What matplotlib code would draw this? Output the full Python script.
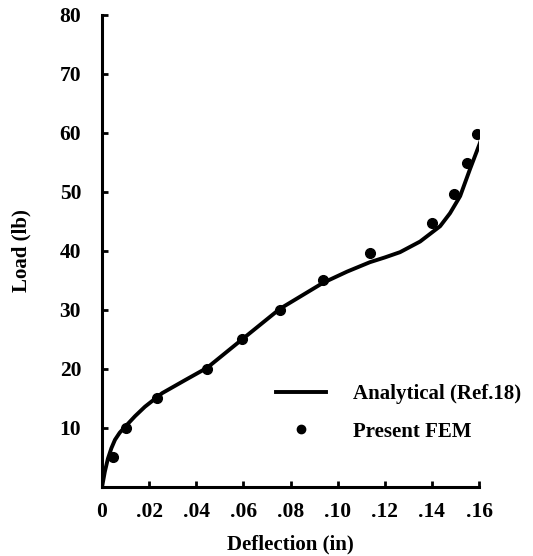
import matplotlib
matplotlib.use("Agg")
import matplotlib.pyplot as plt
from matplotlib.lines import Line2D

# analytical curve (Ref.18)
curve_defl = [0.0, 0.0012, 0.0025, 0.0040, 0.0055, 0.0075, 0.0098, 0.0140, 0.0182,
              0.0255, 0.0352, 0.0446, 0.0594, 0.0755, 0.0938, 0.1040, 0.1137,
              0.1200, 0.1265, 0.1350, 0.1435, 0.1477, 0.1520, 0.1562, 0.1604, 0.1613]
curve_load = [0.0, 2.6, 4.8, 6.6, 8.0, 9.2, 10.2, 12.0, 13.6,
              15.9, 18.1, 20.2, 25.0, 30.2, 34.6, 36.5, 38.1,
              38.9, 39.8, 41.6, 44.2, 46.4, 49.3, 53.9, 58.3, 59.5]

# present FEM points
fem_defl = [0.0047, 0.0102, 0.0233, 0.0446, 0.0594, 0.0755, 0.0938, 0.1137,
            0.1401, 0.1494, 0.1549, 0.1592]
fem_load = [5.0, 10.0, 15.0, 20.0, 25.0, 30.0, 35.0, 39.7, 44.7, 49.7, 54.9, 59.8]

x_ticks = [0, 0.02, 0.04, 0.06, 0.08, 0.10, 0.12, 0.14, 0.16]
x_labels = ["0", ".02", ".04", ".06", ".08", ".10", ".12", ".14", ".16"]
y_ticks = [10, 20, 30, 40, 50, 60, 70, 80]

plt.rcParams['font.family'] = ['Liberation Serif', 'DejaVu Serif']
plt.rcParams['font.weight'] = 'bold'

fig = plt.figure(figsize=(5.33, 5.56), dpi=100, facecolor='white')
ax = fig.add_axes([0.1914, 0.1241, 0.7073, 0.849])

ax.plot(curve_defl, curve_load, color='black', lw=2.8, solid_capstyle='round')
ax.plot(fem_defl, fem_load, 'o', color='black', ms=7)

ax.set_xlim(0, 0.16)
ax.set_ylim(0, 80)
ax.set_xticks(x_ticks)
ax.set_xticklabels(x_labels)
ax.set_yticks(y_ticks)

for s in ['top', 'right']:
    ax.spines[s].set_visible(False)
for s in ['left', 'bottom']:
    ax.spines[s].set_linewidth(2.2)

ax.tick_params(direction='in', length=4, width=2, labelsize=15.5)
ax.tick_params(axis='x', pad=11)
ax.tick_params(axis='y', pad=15)

ax.set_xlabel('Deflection (in)', fontsize=15, fontweight='bold', labelpad=9)
ax.set_ylabel('Load (lb)', fontsize=15, fontweight='bold', labelpad=20)

handles = [Line2D([], [], color='black', lw=2.8),
           Line2D([], [], color='black', marker='o', ls='none', ms=6)]
fig.legend(handles, ['Analytical (Ref.18)', 'Present FEM'],
           loc='upper left', bbox_to_anchor=(0.482, 0.343), frameon=False,
           prop={'size': 15, 'weight': 'bold'}, handlelength=2.4,
           handletextpad=1.3, labelspacing=0.85)

fig.savefig('out.png', dpi=100, facecolor='white')
